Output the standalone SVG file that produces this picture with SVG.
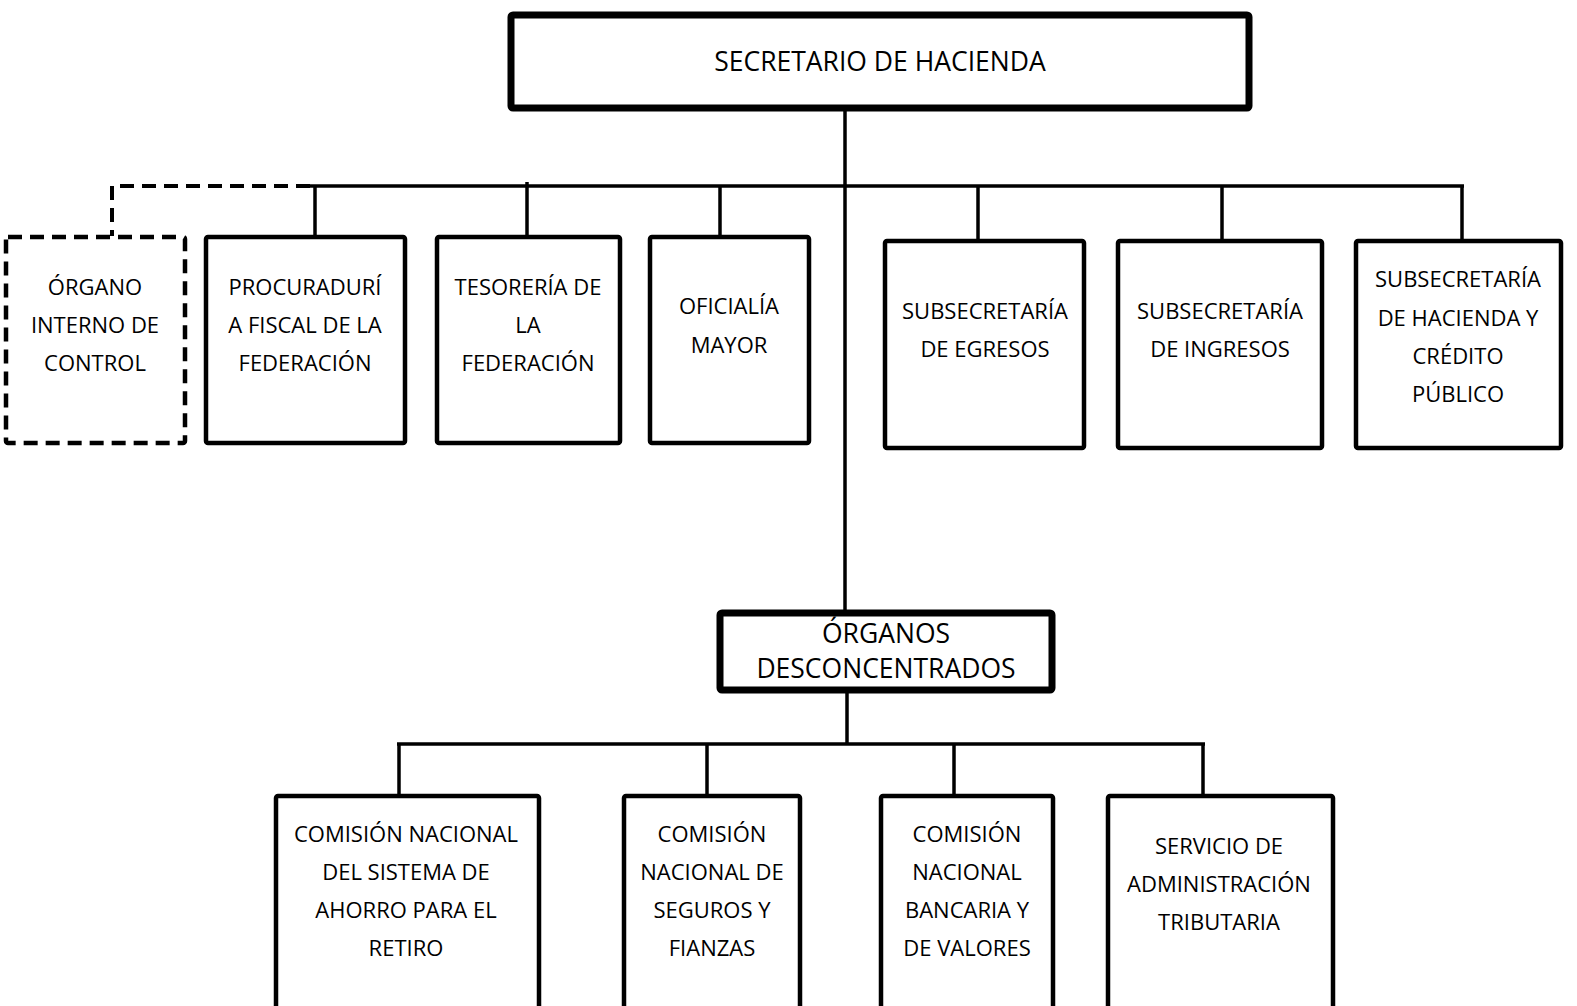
<svg xmlns="http://www.w3.org/2000/svg" width="1577" height="1006" viewBox="0 0 1577 1006">
<style>
text{font-family:"Open Sans","Liberation Sans",sans-serif;fill:#000;text-anchor:middle;}
.t{font-size:22px;}
.big{font-size:26.5px;}
.box{fill:#fff;stroke:#000;stroke-width:4.5;}
.thick{fill:#fff;stroke:#000;stroke-width:7;}
.dash{fill:#fff;stroke:#000;stroke-width:4.5;stroke-dasharray:14,8;}
.ln{stroke:#000;stroke-width:3.5;fill:none;}
.dln{stroke:#000;stroke-width:4;fill:none;stroke-dasharray:14,8;}
</style>
<rect width="1577" height="1006" fill="#fff"/>
<g id="connectors">
<line class="ln" x1="845" y1="109" x2="845" y2="612"/>
<line class="ln" x1="310" y1="186" x2="1464" y2="186"/>
<path class="dln" d="M310,186 H112 V236"/>
<line class="ln" x1="315" y1="186" x2="315" y2="236"/>
<line class="ln" x1="527" y1="182" x2="527" y2="236"/>
<line class="ln" x1="720" y1="186" x2="720" y2="236"/>
<line class="ln" x1="978" y1="186" x2="978" y2="240"/>
<line class="ln" x1="1222" y1="186" x2="1222" y2="240"/>
<line class="ln" x1="1462" y1="186" x2="1462" y2="240"/>
<line class="ln" x1="847" y1="691" x2="847" y2="744"/>
<line class="ln" x1="397" y1="744" x2="1205" y2="744"/>
<line class="ln" x1="399" y1="744" x2="399" y2="795"/>
<line class="ln" x1="707" y1="744" x2="707" y2="795"/>
<line class="ln" x1="954" y1="744" x2="954" y2="795"/>
<line class="ln" x1="1203" y1="744" x2="1203" y2="795"/>
</g>
<g id="n-secretario">
<rect class="thick" x="511" y="15" width="738" height="93" rx="2"/>
<text class="big" x="880" y="71">SECRETARIO DE HACIENDA</text>
</g>
<g id="n-oic">
<rect class="dash" x="6" y="237" width="179" height="206" rx="2"/>
<text class="t" x="95" y="295">ÓRGANO</text>
<text class="t" x="95" y="333">INTERNO DE</text>
<text class="t" x="95" y="371">CONTROL</text>
</g>
<g id="n-procuraduria">
<rect class="box" x="206" y="237" width="199" height="206" rx="2"/>
<text class="t" x="305" y="295">PROCURADURÍ</text>
<text class="t" x="305" y="333">A FISCAL DE LA</text>
<text class="t" x="305" y="371">FEDERACIÓN</text>
</g>
<g id="n-tesoreria">
<rect class="box" x="437" y="237" width="183" height="206" rx="2"/>
<text class="t" x="528" y="295">TESORERÍA DE</text>
<text class="t" x="528" y="333">LA</text>
<text class="t" x="528" y="371">FEDERACIÓN</text>
</g>
<g id="n-oficialia">
<rect class="box" x="650" y="237" width="159" height="206" rx="2"/>
<text class="t" x="729" y="314">OFICIALÍA</text>
<text class="t" x="729" y="353">MAYOR</text>
</g>
<g id="n-egresos">
<rect class="box" x="885" y="241" width="199" height="207" rx="2"/>
<text class="t" x="985" y="319">SUBSECRETARÍA</text>
<text class="t" x="985" y="357">DE EGRESOS</text>
</g>
<g id="n-ingresos">
<rect class="box" x="1118" y="241" width="204" height="207" rx="2"/>
<text class="t" x="1220" y="319">SUBSECRETARÍA</text>
<text class="t" x="1220" y="357">DE INGRESOS</text>
</g>
<g id="n-hacienda">
<rect class="box" x="1356" y="241" width="205" height="207" rx="2"/>
<text class="t" x="1458" y="287">SUBSECRETARÍA</text>
<text class="t" x="1458" y="326">DE HACIENDA Y</text>
<text class="t" x="1458" y="364">CRÉDITO</text>
<text class="t" x="1458" y="402">PÚBLICO</text>
</g>
<g id="n-organos">
<rect class="thick" x="720" y="613" width="332" height="77" rx="2"/>
<text class="big" x="886" y="643">ÓRGANOS</text>
<text class="big" x="886" y="678">DESCONCENTRADOS</text>
</g>
<g id="n-consar">
<rect class="box" x="276" y="796" width="263" height="230" rx="2"/>
<text class="t" x="406" y="842">COMISIÓN NACIONAL</text>
<text class="t" x="406" y="880">DEL SISTEMA DE</text>
<text class="t" x="406" y="918">AHORRO PARA EL</text>
<text class="t" x="406" y="956">RETIRO</text>
</g>
<g id="n-cnsf">
<rect class="box" x="624" y="796" width="176" height="230" rx="2"/>
<text class="t" x="712" y="842">COMISIÓN</text>
<text class="t" x="712" y="880">NACIONAL DE</text>
<text class="t" x="712" y="918">SEGUROS Y</text>
<text class="t" x="712" y="956">FIANZAS</text>
</g>
<g id="n-cnbv">
<rect class="box" x="881" y="796" width="172" height="230" rx="2"/>
<text class="t" x="967" y="842">COMISIÓN</text>
<text class="t" x="967" y="880">NACIONAL</text>
<text class="t" x="967" y="918">BANCARIA Y</text>
<text class="t" x="967" y="956">DE VALORES</text>
</g>
<g id="n-sat">
<rect class="box" x="1108" y="796" width="225" height="230" rx="2"/>
<text class="t" x="1219" y="854">SERVICIO DE</text>
<text class="t" x="1219" y="892">ADMINISTRACIÓN</text>
<text class="t" x="1219" y="930">TRIBUTARIA</text>
</g>
</svg>
